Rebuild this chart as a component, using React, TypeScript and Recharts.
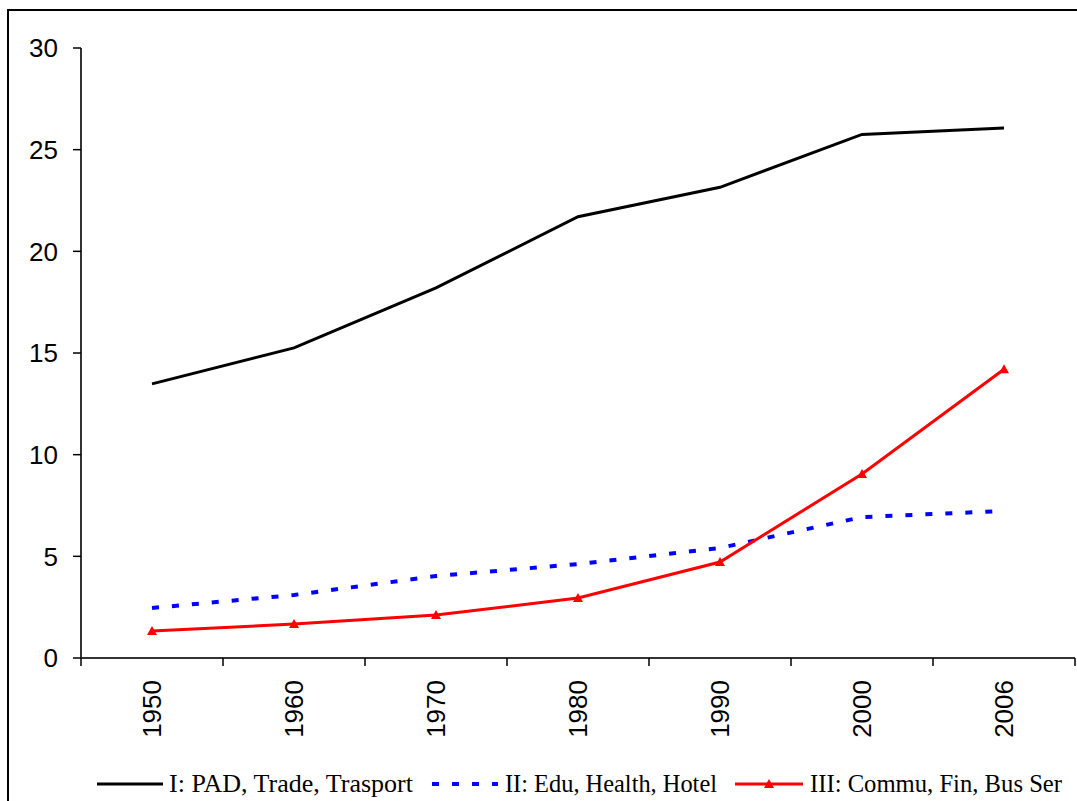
import React from 'react';
import { LineChart, Line, XAxis, YAxis, Legend } from 'recharts';

const years = ['1950', '1960', '1970', '1980', '1990', '2000', '2006'];
const seriesI = [13.48, 15.25, 18.2, 21.7, 23.15, 25.75, 26.07];
const seriesII = [2.46, 3.1, 4.03, 4.62, 5.41, 6.93, 7.23];
const seriesIII = [1.33, 1.67, 2.11, 2.95, 4.72, 9.05, 14.2];
const yTicks = [0, 5, 10, 15, 20, 25, 30];
const names = ['I: PAD, Trade, Trasport', 'II: Edu, Health, Hotel', 'III: Commu, Fin, Bus Ser'];

const data = years.map((y, i) => ({
  pos: i + 0.5,
  year: y,
  I: seriesI[i],
  II: seriesII[i],
  III: seriesIII[i],
}));

const xTicks: number[] = [];
for (let i = 0; i <= years.length * 2; i++) xTicks.push(i / 2);

const XTick = (props: any) => {
  const { x, y, payload } = props;
  const v = payload.value as number;
  if (Number.isInteger(v)) {
    return <line x1={x} y1={y} x2={x} y2={y + 8} stroke="#000" strokeWidth={1.5} />;
  }
  const label = years[Math.floor(v)];
  return (
    <text
      x={x}
      y={y + 22}
      transform={`rotate(-90 ${x} ${y + 22})`}
      textAnchor="end"
      dominantBaseline="central"
      fontFamily="'Liberation Sans', Arial, sans-serif"
      fontSize={26}
      fill="#000"
    >
      {label}
    </text>
  );
};

const Tri = (props: any) => {
  const { cx, cy, index } = props;
  if (cx == null || cy == null) return <g key={index} />;
  return (
    <polygon
      key={index}
      points={`${cx},${cy - 5} ${cx - 5},${cy + 4} ${cx + 5},${cy + 4}`}
      fill="#FF0000"
    />
  );
};

// legend layout: [swatch start, swatch end, text start, text width]
const legendLayout = [
  [97, 163, 169, 244],
  [432, 498, 505, 212],
  [735, 803, 810, 252],
];

const LegendContent = () => {
  const font = "'Liberation Serif', 'Times New Roman', serif";
  const sy = 23;
  const ty = 31;
  return (
    <svg width={1077} height={40} style={{ display: 'block' }}>
      {legendLayout.map(([s0, s1, t0, tw], i) => (
        <g key={i}>
          {i === 0 && <line x1={s0} y1={sy} x2={s1} y2={sy} stroke="#000" strokeWidth={3} />}
          {i === 1 && (
            <line x1={s0} y1={sy} x2={s1} y2={sy} stroke="#0000FF" strokeWidth={4} strokeDasharray="7 13" />
          )}
          {i === 2 && (
            <g>
              <line x1={s0} y1={sy} x2={s1} y2={sy} stroke="#FF0000" strokeWidth={3} />
              <polygon
                points={`${(s0 + s1) / 2},${sy - 5} ${(s0 + s1) / 2 - 5},${sy + 4} ${(s0 + s1) / 2 + 5},${sy + 4}`}
                fill="#FF0000"
              />
            </g>
          )}
          <text
            x={t0}
            y={ty}
            fontFamily={font}
            fontSize={26}
            fill="#000"
            textLength={tw}
            lengthAdjust="spacingAndGlyphs"
          >
            {names[i]}
          </text>
        </g>
      ))}
    </svg>
  );
};

export default function App() {
  return (
    <div style={{ position: 'fixed', left: 0, top: 0, width: 1077, height: 801, overflow: 'hidden', background: '#fff' }}>
      <div
        style={{
          position: 'absolute',
          left: 7,
          top: 9,
          width: 1100,
          height: 820,
          borderLeft: '2px solid #000',
          borderTop: '2px solid #000',
        }}
      />
      <div style={{ position: 'absolute', left: 0, top: 0 }}>
        <LineChart width={1077} height={801} data={data} margin={{ top: 48, right: 2, left: 0, bottom: 0 }}>
          <XAxis
            xAxisId="main"
            dataKey="pos"
            type="number"
            domain={[0, 7]}
            ticks={xTicks}
            interval={0}
            tick={<XTick />}
            tickLine={false}
            tickSize={0}
            tickMargin={0}
            axisLine={{ stroke: '#333', strokeWidth: 2 }}
            height={103}
          />
          <XAxis
            xAxisId="top"
            orientation="top"
            dataKey="pos"
            type="number"
            domain={[0, 7]}
            tick={false}
            tickLine={false}
            axisLine={{ stroke: '#8c8c8c', strokeWidth: 1.5 }}
            height={0}
          />
          <YAxis
            yAxisId="left"
            domain={[0, 30]}
            ticks={yTicks}
            interval={0}
            width={81}
            tickSize={8}
            tickMargin={15}
            tickLine={{ stroke: '#000', strokeWidth: 1.5 }}
            axisLine={{ stroke: '#333', strokeWidth: 2 }}
            tick={{ fill: '#000', fontSize: 26, fontFamily: "'Liberation Sans', Arial, sans-serif" }}
          />
          <YAxis
            yAxisId="right"
            orientation="right"
            domain={[0, 30]}
            width={0}
            tick={false}
            tickLine={false}
            axisLine={{ stroke: '#8c8c8c', strokeWidth: 1.5 }}
          />
          <Legend verticalAlign="bottom" content={<LegendContent />} wrapperStyle={{ left: 0, width: 1077, height: 40 }} />
          <Line
            xAxisId="main"
            yAxisId="left"
            dataKey="I"
            name={names[0]}
            stroke="#000"
            strokeWidth={3}
            dot={false}
            isAnimationActive={false}
          />
          <Line
            xAxisId="main"
            yAxisId="left"
            dataKey="II"
            name={names[1]}
            stroke="#0000FF"
            strokeWidth={4}
            strokeDasharray="7 13"
            dot={false}
            isAnimationActive={false}
          />
          <Line
            xAxisId="main"
            yAxisId="left"
            dataKey="III"
            name={names[2]}
            stroke="#FF0000"
            strokeWidth={3}
            dot={Tri}
            isAnimationActive={false}
          />
        </LineChart>
      </div>
    </div>
  );
}
